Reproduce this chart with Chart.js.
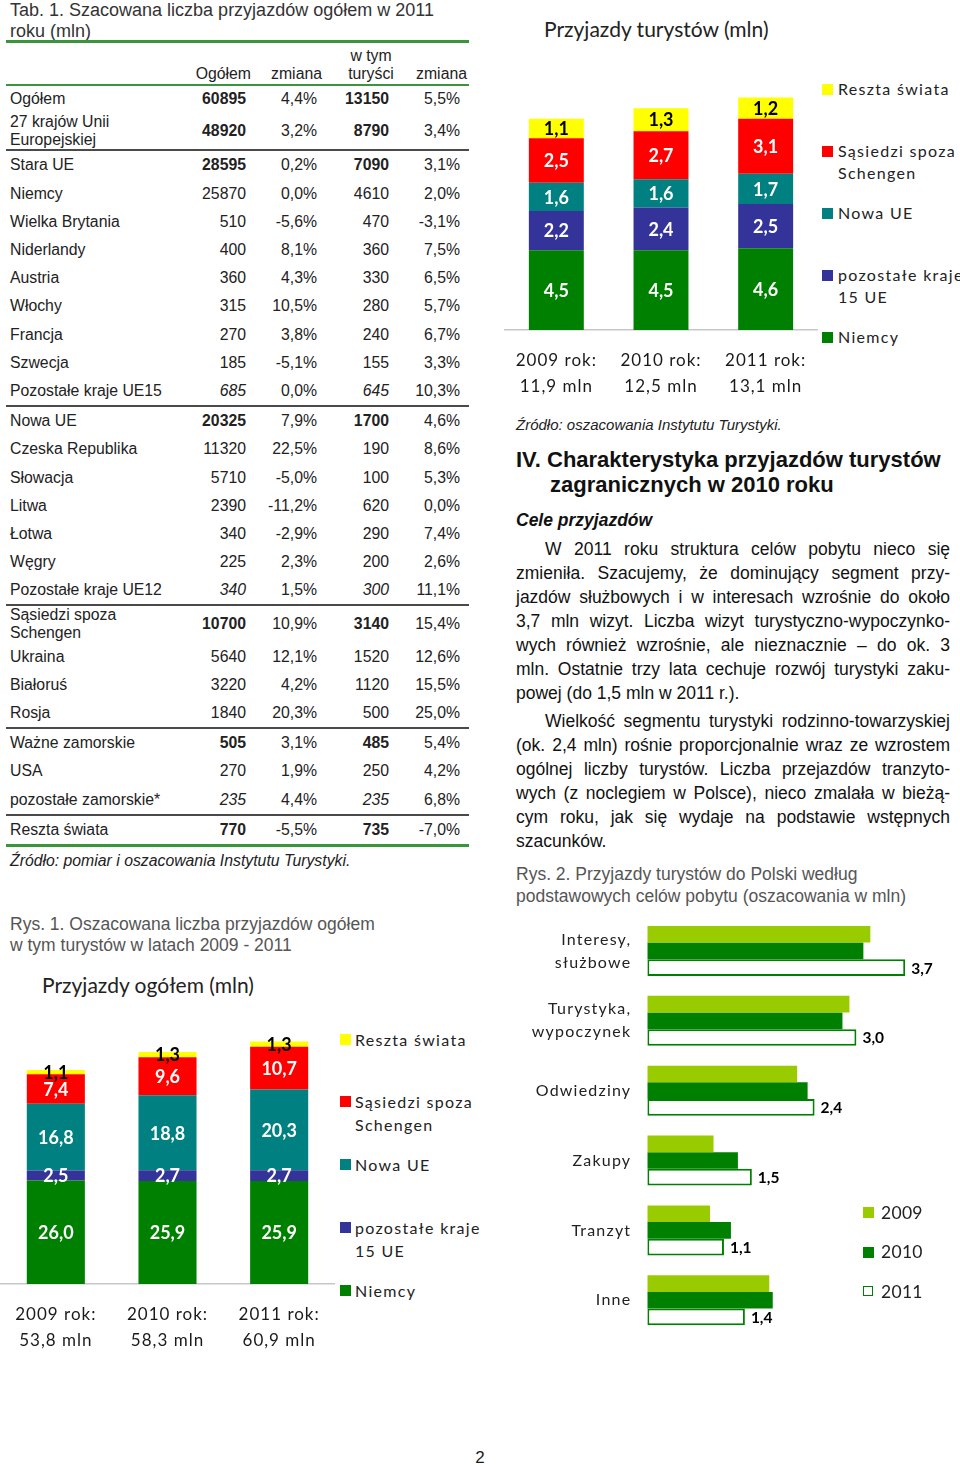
<!DOCTYPE html>
<html lang="pl">
<head>
<meta charset="utf-8">
<title>Przyjazdy do Polski 2009-2011</title>
<script src="https://cdn.jsdelivr.net/npm/chart.js@4.4.1/dist/chart.umd.min.js"></script>
<style>
  html, body { margin: 0; padding: 0; background: #fff; }
  body { width: 960px; height: 1466px; position: relative; overflow: hidden;
         font-family: "Liberation Sans", Arial, sans-serif; color: #1a1a1a; }
  .abs { position: absolute; }
  .cap { color: #555; font-size: 17.5px; line-height: 21px; white-space: nowrap; }
  .tab { font-size: 15.8px; white-space: nowrap; color: #222; }
  .num { text-align: right; width: 100px; }
  .para { position: absolute; left: 516px; width: 434px; font-size: 17.5px; color: #111; }
  .ln { height: 24px; line-height: 24px; text-align: justify; text-align-last: justify; }
  .ln.ind { padding-left: 29px; }
  .ln.last { text-align-last: left; }
  .ctitle { font-family: Lato, sans-serif; font-size: 21px; color: #222; white-space: nowrap; }
  .leg { position: absolute; font-family: Lato, sans-serif; color: #222; white-space: pre; }
  .leg .sq { position: absolute; left: 0; }
  canvas { position: absolute; }
</style>
</head>
<body>

<div class="abs" style="left:10px; top:0; font-size:18px; line-height:21px; color:#333;">Tab. 1. Szacowana liczba przyjazdów ogółem w 2011<br>roku (mln)</div>
<div id="table"></div>
<div class="abs tab" style="left:10px; top:852px; font-style:italic; line-height:18px;">Źródło: pomiar i oszacowania Instytutu Turystyki.</div>

<div class="abs cap" style="left:10px; top:914px;">Rys. 1. Oszacowana liczba przyjazdów ogółem<br>w tym turystów w latach 2009 - 2011</div>
<div class="abs ctitle" style="left:42px; top:972px;">Przyjazdy ogółem (mln)</div>

<div class="abs ctitle" style="left:544px; top:16px;">Przyjazdy turystów (mln)</div>

<div class="abs" style="left:516px; top:416px; font-size:15px; line-height:18px; font-style:italic; color:#222;">Źródło: oszacowania Instytutu Turystyki.</div>
<div class="abs" style="left:516px; top:447px; font-size:22px; line-height:25px; font-weight:bold; color:#111; white-space:nowrap;">IV. Charakterystyka przyjazdów turystów<br><span style="padding-left:34px">zagranicznych w 2010 roku</span></div>
<div class="abs" style="left:516px; top:509px; font-size:17.5px; line-height:22px; font-weight:bold; font-style:italic; color:#111;">Cele przyjazdów</div>

<div class="para" style="top:537px;">
  <div class="ln ind">W 2011 roku struktura celów pobytu nieco się</div>
  <div class="ln">zmieniła. Szacujemy, że dominujący segment przy-</div>
  <div class="ln">jazdów służbowych i w interesach wzrośnie do około</div>
  <div class="ln">3,7 mln wizyt. Liczba wizyt turystyczno-wypoczynko-</div>
  <div class="ln">wych również wzrośnie, ale nieznacznie – do ok. 3</div>
  <div class="ln">mln. Ostatnie trzy lata cechuje rozwój turystyki zaku-</div>
  <div class="ln last">powej (do 1,5 mln w 2011 r.).</div>
</div>
<div class="para" style="top:709px;">
  <div class="ln ind">Wielkość segmentu turystyki rodzinno-towarzyskiej</div>
  <div class="ln">(ok. 2,4 mln) rośnie proporcjonalnie wraz ze wzrostem</div>
  <div class="ln">ogólnej liczby turystów. Liczba przejazdów tranzyto-</div>
  <div class="ln">wych (z noclegiem w Polsce), nieco zmalała w bieżą-</div>
  <div class="ln">cym roku, jak się wydaje na podstawie wstępnych</div>
  <div class="ln last">szacunków.</div>
</div>
<div class="abs cap" style="left:516px; top:863px; line-height:22px;">Rys. 2. Przyjazdy turystów do Polski według<br>podstawowych celów pobytu (oszacowania w mln)</div>
<div class="abs" style="left:470px; top:1448px; width:20px; text-align:center; font-size:17px; line-height:20px;">2</div>

<canvas id="touristChart" width="314" height="340" style="left:504px; top:60px;"></canvas>
<canvas id="arrivalChart" width="335" height="370" style="left:0px; top:990px;"></canvas>
<canvas id="purposeChart" width="430" height="440" style="left:520px; top:905px;"></canvas>
<div id="legends"></div>

<script>
// Tab. 1 (thousands of arrivals, 2011)
const tableNames = ['Ogółem', '27 krajów Unii\nEuropejskiej', 'Stara UE', 'Niemcy', 'Wielka Brytania', 'Niderlandy',
  'Austria', 'Włochy', 'Francja', 'Szwecja', 'Pozostałe kraje UE15', 'Nowa UE', 'Czeska Republika', 'Słowacja',
  'Litwa', 'Łotwa', 'Węgry', 'Pozostałe kraje UE12', 'Sąsiedzi spoza\nSchengen', 'Ukraina', 'Białoruś', 'Rosja',
  'Ważne zamorskie', 'USA', 'pozostałe zamorskie*', 'Reszta świata'];
const tableTotal = [60895, 48920, 28595, 25870, 510, 400, 360, 315, 270, 185, 685, 20325, 11320, 5710, 2390, 340,
  225, 340, 10700, 5640, 3220, 1840, 505, 270, 235, 770];
const tableTotalChange = ['4,4%', '3,2%', '0,2%', '0,0%', '-5,6%', '8,1%', '4,3%', '10,5%', '3,8%', '-5,1%', '0,0%',
  '7,9%', '22,5%', '-5,0%', '-11,2%', '-2,9%', '2,3%', '1,5%', '10,9%', '12,1%', '4,2%', '20,3%', '3,1%', '1,9%',
  '4,4%', '-5,5%'];
const tableTourists = [13150, 8790, 7090, 4610, 470, 360, 330, 280, 240, 155, 645, 1700, 190, 100, 620, 290, 200,
  300, 3140, 1520, 1120, 500, 485, 250, 235, 735];
const tableTouristChange = ['5,5%', '3,4%', '3,1%', '2,0%', '-3,1%', '7,5%', '6,5%', '5,7%', '6,7%', '3,3%', '10,3%',
  '4,6%', '8,6%', '5,3%', '0,0%', '7,4%', '2,6%', '11,1%', '15,4%', '12,6%', '15,5%', '25,0%', '5,4%', '4,2%',
  '6,8%', '-7,0%'];
const boldRows = [0, 1, 2, 11, 18, 22, 25];
const italicRows = [10, 17, 24];
const ruleAfter = [1, 10, 17, 21, 24];

// Rys. 1 - stacked bars
const years = ['2009', '2010', '2011'];
const touristTotals = ['11,9 mln', '12,5 mln', '13,1 mln'];
const arrivalTotals = ['53,8 mln', '58,3 mln', '60,9 mln'];
const regionNames = ['Niemcy', 'pozostałe kraje\n15 UE', 'Nowa UE', 'Sąsiedzi spoza\nSchengen', 'Reszta świata'];
const regionColors = ['#008000', '#333399', '#008080', '#ff0000', '#ffff00'];
const regionLabelColors = ['#ffffff', '#ffffff', '#ffffff', '#ffffff', '#000000'];

const touristsNiemcy = [4.5, 4.5, 4.6];
const touristsUE15 = [2.2, 2.4, 2.5];
const touristsNowaUE = [1.6, 1.6, 1.7];
const touristsSasiedzi = [2.5, 2.7, 3.1];
const touristsReszta = [1.1, 1.3, 1.2];

const arrivalsNiemcy = [26.0, 25.9, 25.9];
const arrivalsUE15 = [2.5, 2.7, 2.7];
const arrivalsNowaUE = [16.8, 18.8, 20.3];
const arrivalsSasiedzi = [7.4, 9.6, 10.7];
const arrivalsReszta = [1.1, 1.3, 1.3];

// Rys. 2 - purposes of visits
const purposes = [['Interesy,', 'służbowe'], ['Turystyka,', 'wypoczynek'], 'Odwiedziny', 'Zakupy', 'Tranzyt', 'Inne'];
const purposeYears = ['2009', '2010', '2011'];
const purpose2009 = [3.2, 2.9, 2.15, 0.95, 0.9, 1.75];
const purpose2010 = [3.1, 2.8, 2.3, 1.3, 1.2, 1.8];
const purpose2011 = [3.7, 3.0, 2.4, 1.5, 1.1, 1.4];

// ---- table ----
const table = document.getElementById('table');
function put(html, css, cls) {
  const d = document.createElement('div');
  d.className = 'abs ' + (cls || '');
  d.style.cssText = css;
  d.innerHTML = html;
  table.appendChild(d);
  return d;
}
put('', 'left:6px; top:40px; width:463px; height:3px; background:#3a963a;');
put('w tym<br>turyści', 'left:321px; top:47px; width:100px; text-align:center; line-height:18px;', 'tab');
put('Ogółem', 'left:151px; top:65px; line-height:18px;', 'tab num');
put('zmiana', 'left:222px; top:65px; line-height:18px;', 'tab num');
put('zmiana', 'left:367px; top:65px; line-height:18px;', 'tab num');
put('', 'left:6px; top:84px; width:463px; height:2px; background:#3a963a;');

const rightEdges = [246, 317, 389, 460];
let y = 85;
tableNames.forEach((name, i) => {
  const tall = name.includes('\n');
  const h = tall ? 36 : 28.2;
  const mid = y + h / 2;
  const bold = boldRows.includes(i);
  const ital = italicRows.includes(i);
  put(name.replace('\n', '<br>'), `left:10px; top:${mid - (tall ? 18 : 9)}px; line-height:18px;`, 'tab');
  const cells = [tableTotal[i], tableTotalChange[i], tableTourists[i], tableTouristChange[i]];
  cells.forEach((c, k) => {
    let st = `left:${rightEdges[k] - 100}px; top:${mid - 9}px; line-height:18px;`;
    if (k % 2 === 0 && bold) st += 'font-weight:bold;';
    if (k % 2 === 0 && ital) st += 'font-style:italic;';
    put(String(c), st, 'tab num');
  });
  y += h;
  if (ruleAfter.includes(i)) {
    put('', `left:6px; top:${y}px; width:463px; height:2px; background:#4a4a4a;`);
    y += 2;
  }
});
put('', `left:6px; top:${y}px; width:463px; height:3px; background:#3a963a;`);

// ---- legends (HTML) ----
const legends = document.getElementById('legends');
function legend(left, firstMid, step, lineH, fontSize, spacing, gap, sq, items) {
  items.forEach((it, i) => {
    const d = document.createElement('div');
    d.className = 'leg';
    const top = firstMid - lineH / 2 + i * step;
    d.style.cssText = `left:${left}px; top:${top}px; padding-left:${gap}px; font-size:${fontSize}px; line-height:${lineH}px; letter-spacing:${spacing}px;`;
    d.textContent = it.name;
    const s = document.createElement('span');
    s.className = 'sq';
    const bw = it.border ? 1.5 : 0;
    s.style.cssText = `top:${(lineH - sq) / 2}px; width:${sq - 2 * bw}px; height:${sq - 2 * bw}px; background:${it.color}; border:${bw}px solid ${it.border || it.color};`;
    d.appendChild(s);
    legends.appendChild(d);
  });
}
const regionItems = regionNames.map((n, i) => ({ name: n, color: regionColors[i] })).reverse();
legend(822, 89, 62, 22.5, 16, 1.3, 16, 11, regionItems);
legend(340, 1039, 62.75, 23, 16, 1.3, 15, 11, regionItems);
legend(863, 1212.7, 39.5, 22, 17.5, 0.3, 18, 11, [
  { name: purposeYears[0], color: '#99cc00' },
  { name: purposeYears[1], color: '#008000' },
  { name: purposeYears[2], color: '#ffffff', border: '#008000' },
]);

// ---- charts ----
Chart.defaults.font.family = 'Lato, sans-serif';
Chart.defaults.color = '#1a1a1a';

const fmt = v => v.toFixed(1).replace('.', ',');

const valueLabels = {
  id: 'valueLabels',
  beforeDraw(chart, args, opts) {
    chart.ctx.letterSpacing = (opts.tickSpacing || 0) + 'px';
  },
  afterDatasetsDraw(chart, args, opts) {
    const ctx = chart.ctx;
    ctx.save();
    ctx.letterSpacing = '0px';
    ctx.font = `bold ${opts.size}px Lato, sans-serif`;
    ctx.textBaseline = 'middle';
    chart.data.datasets.forEach((ds, i) => {
      if (opts.only && !opts.only.includes(i)) return;
      const meta = chart.getDatasetMeta(i);
      meta.data.forEach((bar, j) => {
        const p = bar.getProps(['x', 'y', 'base'], true);
        ctx.fillStyle = opts.colors ? opts.colors[i] : '#000';
        if (opts.mode === 'end') {
          ctx.textAlign = 'left';
          ctx.fillText(fmt(ds.data[j]), p.x + 6, p.y + 1);
        } else {
          ctx.textAlign = 'center';
          ctx.fillText(fmt(ds.data[j]), p.x, (p.y + p.base) / 2 + 1);
        }
      });
    });
    ctx.restore();
  }
};

// fixed axis size, no automatic label margins
function fixAxis(size) {
  return s => {
    if (s.isHorizontal()) s.height = size; else s.width = size;
    s.paddingTop = 0; s.paddingBottom = 0; s.paddingLeft = 0; s.paddingRight = 0;
  };
}

function stacked(id, series, totals, yMax, padTop, axisH, tickPad, lineH, barPct) {
  return new Chart(document.getElementById(id), {
    type: 'bar',
    data: {
      labels: years.map((yr, i) => [yr + ' rok:', totals[i]]),
      datasets: series.map((d, i) => ({
        label: regionNames[i],
        data: d,
        backgroundColor: regionColors[i],
        borderWidth: 0,
      })),
    },
    options: {
      responsive: false,
      animation: false,
      layout: { padding: { top: padTop, left: 0, right: 0, bottom: 0 } },
      datasets: { bar: { categoryPercentage: barPct, barPercentage: 1 } },
      plugins: {
        legend: { display: false },
        tooltip: { enabled: false },
        valueLabels: { size: 18, colors: regionLabelColors, tickSpacing: 1 },
      },
      scales: {
        x: {
          stacked: true,
          grid: { display: false, drawTicks: false },
          border: { display: true, color: '#c8c8c8', width: 1.5 },
          ticks: { padding: tickPad, color: '#1a1a1a', font: { size: 17, lineHeight: lineH / 17 } },
          afterFit: fixAxis(axisH),
        },
        y: { stacked: true, display: false, min: 0, max: yMax },
      },
    },
    plugins: [valueLabels],
  });
}

stacked('touristChart',
  [touristsNiemcy, touristsUE15, touristsNowaUE, touristsSasiedzi, touristsReszta],
  touristTotals, 14, 21.5, 70, 18, 25.5, 0.525);

stacked('arrivalChart',
  [arrivalsNiemcy, arrivalsUE15, arrivalsNowaUE, arrivalsSasiedzi, arrivalsReszta],
  arrivalTotals, 70, 15.4, 76, 18, 26, 0.52);

new Chart(document.getElementById('purposeChart'), {
  type: 'bar',
  data: {
    labels: purposes,
    datasets: [
      { label: purposeYears[0], data: purpose2009, backgroundColor: '#99cc00', borderWidth: 0 },
      { label: purposeYears[1], data: purpose2010, backgroundColor: '#008000', borderWidth: 0 },
      { label: purposeYears[2], data: purpose2011, backgroundColor: '#ffffff', borderColor: '#008000',
        borderWidth: 2, borderSkipped: false },
    ],
  },
  options: {
    indexAxis: 'y',
    responsive: false,
    animation: false,
    layout: { padding: { top: 11, bottom: 9.8, right: 23.9, left: 0 } },
    datasets: { bar: { categoryPercentage: 0.716, barPercentage: 1 } },
    plugins: {
      legend: { display: false },
      tooltip: { enabled: false },
      valueLabels: { size: 15.5, only: [2], mode: 'end', tickSpacing: 1.2 },
    },
    scales: {
      x: { display: false, min: 0, max: 4 },
      y: {
        grid: { display: false, drawTicks: false },
        border: { display: false },
        ticks: { padding: 16, color: '#222', font: { size: 16, lineHeight: 23 / 16 } },
        afterFit: fixAxis(127.3),
      },
    },
  },
  plugins: [valueLabels],
});
</script>
</body>
</html>
